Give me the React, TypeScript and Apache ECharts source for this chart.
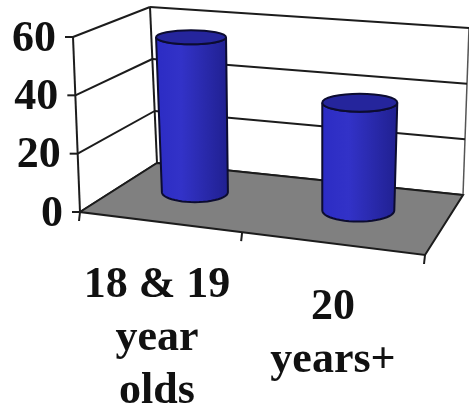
import React, { useEffect, useRef } from "react";
import * as echarts from "echarts";

const categories = ["18 & 19\nyear\nolds", "20\nyears+"];
const seriesValues = [56, 38];
const yTicks = [0, 20, 40, 60];

const lerp = (a: number[], b: number[], t: number) => [a[0] + (b[0] - a[0]) * t, a[1] + (b[1] - a[1]) * t];
const FL = [80, 212], FR = [425, 255], BL = [157, 163], BR = [463, 195];
const HFL = [-7, -175], HFR = [6, -180], HBL = [-7, -156], HBR = [6, -167];
const proj = (u: number, d: number, h: number) => {
  const f = lerp(lerp(FL, FR, u), lerp(BL, BR, u), d);
  const v = lerp(lerp(HFL, HFR, u), lerp(HBL, HBR, u), d);
  return [f[0] + v[0] * h, f[1] + v[1] * h];
};
const FONT = "Liberation Serif";
const INK = "#1c1c1c";
const lineEl = (a: number[], b: number[], w = 2, color = INK) => ({
  type: "line",
  shape: { x1: a[0], y1: a[1], x2: b[0], y2: b[1] },
  style: { stroke: color, lineWidth: w },
});
const norm = (params: any, api: any) => {
  const c = params.coordSys;
  const p = api.coord([api.value(0), api.value(1)]);
  return { u: (p[0] - c.x) / c.width, h: (c.y + c.height - p[1]) / c.height };
};
const arcPts = (cx: number, cy: number, rx: number, ry: number, from: number, to: number) => {
  const pts: number[][] = [];
  for (let i = 0; i <= 24; i++) {
    const t = from + ((to - from) * i) / 24;
    pts.push([cx + rx * Math.cos(t), cy + ry * Math.sin(t)]);
  }
  return pts;
};

const renderWalls = (params: any, api: any) => {
  const { h } = norm(params, api);
  const a = proj(0, 0, h), b = proj(0, 1, h), c = proj(1, 1, h);
  const children: any[] = [
    lineEl(a, b),
    lineEl(b, c),
    lineEl([a[0] - 8, a[1]], a),
    {
      type: "text",
      style: {
        text: String(api.value(1)),
        x: a[0] - 17,
        y: a[1] - 1,
        align: "right",
        verticalAlign: "middle",
        font: `bold 44px "${FONT}"`,
        fill: "#111",
      },
    },
  ];
  if (params.dataIndex === 0) {
    children.push(lineEl(proj(0, 0, 0), proj(0, 0, 1)));
    children.push(lineEl(proj(0, 1, 0), proj(0, 1, 1)));
    children.push(lineEl(proj(1, 1, 0), proj(1, 1, 1), 1.5, "#555"));
  }
  return { type: "group", children };
};

const renderFloor = (params: any, api: any) => {
  if (params.dataIndex !== 0) return { type: "group", children: [] };
  const corners = [proj(0, 0, 0), proj(0, 1, 0), proj(1, 1, 0), proj(1, 0, 0)];
  const tick = (u: number) => {
    const p = proj(u, 0, 0);
    return lineEl(p, [p[0] - 1, p[1] + 9]);
  };
  return {
    type: "group",
    children: [
      { type: "polygon", shape: { points: corners }, style: { fill: "#808080", stroke: INK, lineWidth: 2 } },
      tick(0),
      tick(0.47),
      tick(1),
    ],
  };
};

const renderCylinder = (params: any, api: any) => {
  const { u, h } = norm(params, api);
  const cu = u - 0.03;
  const base = proj(cu, 0.57, 0);
  const top = proj(cu, 0.57, h);
  const k = cu - 0.22;
  const dx = k * 4;
  base[0] += dx;
  top[0] += dx;
  const rxT = 35 + k * 5, ryT = 7 + k * 4, rxB = 33 + k * 6, ryB = 10 + k * 2;
  const body = [
    [top[0] - rxT, top[1]],
    ...arcPts(base[0], base[1], rxB, ryB, Math.PI, 0),
    [top[0] + rxT, top[1]],
    ...arcPts(top[0], top[1], rxT, ryT, 0, Math.PI),
  ];
  return {
    type: "group",
    children: [
      {
        type: "polygon",
        shape: { points: body },
        style: {
          stroke: "#0c0c30",
          lineWidth: 2,
          fill: new echarts.graphic.LinearGradient(0, 0, 1, 0, [
            { offset: 0, color: "#2c2cc4" },
            { offset: 0.35, color: "#3232c8" },
            { offset: 0.65, color: "#2a2aae" },
            { offset: 1, color: "#202090" },
          ]),
        },
      },
      {
        type: "ellipse",
        shape: { cx: top[0], cy: top[1], rx: rxT, ry: ryT },
        style: { fill: "#25259c", stroke: "#0c0c30", lineWidth: 2 },
      },
    ],
  };
};

const labelCentre = [[157, 335], [333, 331]];
const renderLabel = (params: any, api: any) => {
  const pos = labelCentre[params.dataIndex];
  return {
    type: "text",
    style: {
      text: categories[params.dataIndex],
      x: pos[0],
      y: pos[1],
      align: "center",
      verticalAlign: "middle",
      font: `bold 44px "${FONT}"`,
      lineHeight: 53,
      fill: "#111",
    },
  };
};

export default function App() {
  const ref = useRef<HTMLDivElement>(null);
  useEffect(() => {
    const chart = echarts.init(ref.current!, undefined, { renderer: "svg" });
    const base = { type: "custom", coordinateSystem: "cartesian2d", clip: false, silent: true, encode: { x: 0, y: 1 } };
    const barData = seriesValues.map((v, i) => [i, v]);
    chart.setOption({
      animation: false,
      backgroundColor: "#ffffff",
      grid: { left: 80, right: 44, top: 37, bottom: 200 },
      xAxis: { type: "category", data: categories, show: false },
      yAxis: { type: "value", min: 0, max: 60, interval: 20, show: false },
      series: [
        { ...base, z: 1, renderItem: renderWalls, data: yTicks.map((v) => [0, v]) },
        { ...base, z: 2, renderItem: renderFloor, data: yTicks.map((v) => [0, v]) },
        { ...base, z: 3, renderItem: renderCylinder, data: barData },
        { ...base, z: 4, renderItem: renderLabel, data: barData },
      ],
    });
    return () => chart.dispose();
  }, []);
  return (
    <div
      ref={ref}
      style={{ position: "absolute", left: 0, top: 0, width: 469, height: 412, filter: "blur(0.6px)" }}
    />
  );
}
